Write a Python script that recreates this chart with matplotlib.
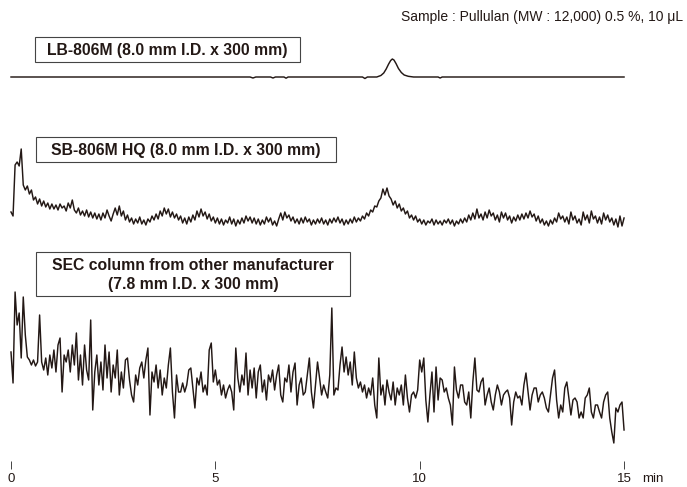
import numpy as np
import matplotlib
matplotlib.use("Agg")
import matplotlib.pyplot as plt
from matplotlib.patches import Rectangle

plt.rcParams['font.family'] = ['Liberation Sans', 'DejaVu Sans']

# ---------------- data ----------------
tick_values = [0, 5, 10, 15]
tick_labels = ["0", "5", "10", "15"]
x_unit = "min"
sample_note = "Sample : Pullulan (MW : 12,000) 0.5 %, 10 μL"
column_labels = ["LB-806M (8.0 mm I.D. x 300 mm)",
                 "SB-806M HQ (8.0 mm I.D. x 300 mm)",
                 "SEC column from other manufacturer\n(7.8 mm I.D. x 300 mm)"]

# LB-806M trace (time in min, response in arbitrary units)
lb_time = [0, 5.85, 5.92, 5.99, 6.35, 6.41, 6.47, 6.68, 6.73, 6.78, 8.6, 8.66,
           8.72, 8.95, 9.05, 9.12, 9.18, 9.24, 9.29, 9.33, 9.37, 9.42, 9.48,
           9.55, 9.62, 9.72, 9.85, 10.45, 10.5, 10.55, 15.0]
lb_signal = [0, 0, -1, 0, 0, -1, 0, 0, -1.2, 0, 0, -1.5, 0, 0, 1.5, 4, 8, 13,
             16.5, 18, 17, 13.5, 8.5, 4.5, 2, 0.7, 0, 0, -1, 0, 0]

# SB-806M HQ trace, sampled every 0.05 min from 0 to 15 min
sb_signal = [
    10, 6, 57, 60, 56, 73, 37, 32, 36, 28, 32,
    22, 25, 18, 23, 16, 21, 15, 19, 13, 18,
    13, 17, 12, 18, 14, 16, 11, 19, 14, 22,
    12, 9, 14, 7, 11, 6, 12, 5, 10, 4,
    9, 3, 8, 2, 9, 4, 12, 6, 1, 8,
    14, 7, 16, 6, 11, 2, 7, 0, 4, -2,
    3, -1, 5, -2, 2, -3, 3, 0, 6, 2,
    8, 3, 11, 6, 14, 8, 13, 5, 10, 4,
    8, 2, 6, -1, 4, -2, 5, 0, 7, 2,
    11, 5, 13, 6, 10, 3, 8, 1, 5, -1,
    4, -2, 3, -3, 2, -1, 5, -2, 3, -4,
    2, -2, 4, -1, 6, 1, 5, -1, 4, -2,
    3, -3, 2, -2, 5, 0, 4, -3, 1, -4,
    3, 9, 2, 10, 4, 7, 1, 5, -1, 3,
    -2, 4, -1, 5, 0, 3, -3, 2, -2, 3,
    -1, 4, -2, 2, -3, 3, -1, 4, 0, 5,
    -1, 3, -3, 2, -2, 3, -1, 5, 0, 4,
    1, 6, 3, 9, 6, 12, 10, 16, 15, 21,
    24, 33, 27, 34, 26, 23, 17, 21, 14, 18,
    11, 14, 8, 11, 4, 7, 2, 6, 0, 3,
    -2, 2, -3, 1, -1, 3, -3, 2, -2, 1,
    -3, 2, -1, 3, -2, 2, -4, 1, -2, 3,
    -1, 4, 0, 7, 2, 9, 3, 13, 4, 8,
    2, 10, 4, 12, 6, 9, 2, 7, 0, 10,
    4, 9, 2, 6, -1, 5, 1, 7, 2, 8,
    3, 9, 4, 11, 5, 8, 1, 6, -1, 3,
    -3, 1, -4, 2, -2, 4, 0, 9, 3, 6,
    0, 5, -2, 10, 2, 6, -1, 3, -3, 10,
    2, 7, -1, 11, 3, 6, -1, 5, -2, 9,
    2, 7, 0, 4, -3, 3, -5, 6, -4, 4,
]

# Other manufacturer's SEC trace, sampled every 0.05 min from 0 to 15 min
sec_signal = [
    48, 17, 108, 75, 87, 42, 103, 65, 43, 40, 35,
    40, 34, 38, 85, 38, 30, 42, 25, 45, 32,
    50, 28, 55, 62, 8, 45, 38, 50, 28, 55,
    35, 67, 20, 45, 15, 55, 30, 20, 80, -10,
    28, 45, 15, 38, 10, 55, 22, 48, 8, 35,
    22, 50, 5, 28, 12, 40, 42, 20, 5, -2,
    25, 15, 32, 38, 22, 40, 52, -15, 28, 18,
    35, 12, 30, 5, 22, 12, 35, 52, 8, -18,
    25, 8, 8, 17, 8, 15, 30, 32, 12, -8,
    22, 15, 28, 8, 15, 5, 50, 57, 18, 30,
    15, 20, 5, 15, 2, 10, 15, 8, -10, 52,
    22, 8, 25, 15, 47, 5, 30, 12, 32, 2,
    28, 35, 8, 20, 0, 25, 18, 30, 10, 25,
    35, 5, -2, 22, 18, 35, 8, 28, 37, -5,
    15, 22, 5, 8, 25, 42, 8, -8, 15, 38,
    22, 5, 15, 8, 2, 25, 92, 5, 12, 10,
    35, 53, 28, 43, 25, 38, 15, 48, 22, 12,
    18, 8, 15, 2, 12, 5, 22, -5, -18, 42,
    5, 15, -5, 20, 8, 0, 18, -5, 12, 5,
    15, -5, 25, 2, -12, 5, 8, 2, 10, 40,
    28, 42, 0, -22, 5, 28, -12, 33, 0, 22,
    20, 8, 12, 2, -5, -25, 33, 10, 2, 15,
    15, -2, -5, 8, -18, 18, 42, 10, 8, 18,
    22, -5, 5, 12, -2, -10, 5, 15, 8, -5,
    5, 8, 10, 2, -25, -2, 8, 2, 4, -5,
    15, 27, 8, -10, 5, 12, 12, -2, 5, 8,
    2, -8, -12, 5, 22, 30, 0, -18, -5, -12,
    12, 18, 2, -15, 0, 2, -2, -18, -12, -18,
    2, 5, 12, -12, -18, -5, -5, -12, -18, -2,
    5, 8, -18, -32, -43, -8, -12, -5, -2, -30,
]

# ---------------- layout ----------------
W, H = 687, 487
fig = plt.figure(figsize=(W / 100, H / 100), dpi=100)
x0_px, px_per_min = 11.0, 40.87
axis_row = 461
ax = fig.add_axes([0, (H - axis_row) / H, 1, axis_row / H])
ax.set_xlim(-x0_px / px_per_min, (W - x0_px) / px_per_min)
ax.set_ylim(H - axis_row, H)
for s in ax.spines.values():
    s.set_visible(False)
ax.set_yticks([])
ax.set_xticks(tick_values)
ax.set_xticklabels(tick_labels)
ax.tick_params(axis='x', direction='out', length=6, width=0.7, color='#444444',
               labelsize=9.5, pad=3, labelcolor='#231815')
ax.annotate(x_unit, xy=(tick_values[-1], 0), xycoords=('data', 'axes fraction'),
            xytext=(13, -9), textcoords='offset points', fontsize=9.5,
            color='#231815', ha='left', va='top')

line_color = '#231815'
offsets = [410, 265, 87]

sb_time = np.linspace(0, 15, len(sb_signal))
sec_time = np.linspace(0, 15, len(sec_signal))

ax.plot(lb_time, np.array(lb_signal) + offsets[0], color=line_color, lw=1.05)
ax.plot(sb_time, np.array(sb_signal) + offsets[1], color=line_color, lw=1.05)
ax.plot(sec_time, np.array(sec_signal) + offsets[2], color=line_color, lw=1.05)

def px(x, row):
    return (x / W, 1 - row / H)

# boxes (left, top, right, bottom) in pixels
boxes = [(35, 37, 300, 62), (36, 137, 336, 162), (36, 252, 350, 296)]
for (l, t, r, b), label in zip(boxes, column_labels):
    fx, fy = px(l, b)
    fig.patches.append(Rectangle((fx, fy), (r - l) / W, (b - t) / H,
                                 transform=fig.transFigure, fill=False,
                                 edgecolor='#444444', lw=0.8))
    cx, cy = px((l + r) / 2, (t + b) / 2 + 1)
    fig.text(cx, cy, label, ha='center', va='center', fontsize=11.3,
             fontweight='bold', color='#231815', linespacing=1.3)

sx, sy = px(683, 17)
fig.text(sx, sy, sample_note, ha='right', va='center', fontsize=10, color='#231815')

fig.savefig("out.png", dpi=100)
